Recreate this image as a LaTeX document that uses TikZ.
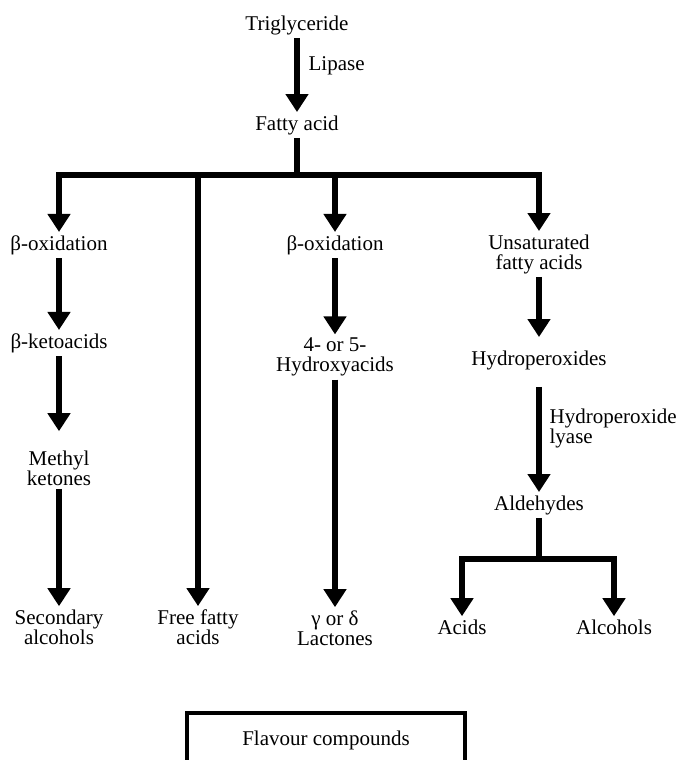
\documentclass[tikz,border=0pt]{standalone}
\usepackage{fontspec}
\setmainfont{Liberation Serif}
\usetikzlibrary{arrows.meta}

\tikzset{
  item/.style={align=center, inner sep=1.5pt, font=\fontsize{10.5}{10}\selectfont},
  flow/.style={line width=2.6pt, -{Triangle[width=11pt,length=9pt]}},
  bar/.style={line width=2.6pt},
}

\begin{document}
\begin{tikzpicture}[x=0.5pt, y=-0.5pt]
\useasboundingbox (0,0) rectangle (679,760);

\node[item] (trig) at (297,25) {Triglyceride};
\node[item] (fatty) at (297,125) {Fatty acid};

\coordinate (split) at (297,175);

% left column
\node[item] (box1) at (59,245) {β-oxidation};
\node[item] (keto) at (59,343) {β-ketoacids};
\node[item] (methyl) at (59,468) {Methyl\\ketones};
\node[item] (second) at (59,627) {Secondary\\alcohols};

\node[item] (free) at (198,627) {Free fatty\\acids};

% middle column
\node[item] (box2) at (335,245) {β-oxidation};
\node[item] (hydroxy) at (335,357) {4- or 5-\\Hydroxyacids};
\node[item] (lact) at (335,628) {γ or δ\\Lactones};

% right column
\node[item] (unsat) at (539,254) {Unsaturated\\fatty acids};
\node[item] (hydro) at (539,360) {Hydroperoxides};
\node[item] (ald) at (539,505) {Aldehydes};
\coordinate (fork) at (539,559);
\node[item] (acids) at (462,627) {Acids};
\node[item] (alcs) at (614,627) {Alcohols};

\node[draw, line width=2pt, minimum width=139pt, minimum height=27pt, font=\fontsize{10.5}{10}\selectfont] (flav) at (326,740) {Flavour compounds};

\draw[flow] (trig) -- (fatty) node[pos=0.37, right=3pt, item]{Lipase};
\draw[bar] (fatty) -- (split);
\draw[flow] (split) -| (box1);
\draw[flow] (split) -| (free);
\draw[flow] (split) -| (box2);
\draw[flow] (split) -| (unsat);

\draw[flow] (box1) -- (keto);
\draw[flow, shorten >=8pt] (keto) -- (methyl);
\draw[flow] (methyl) -- (second);

\draw[flow] (box2) -- (hydroxy);
\draw[flow] (hydroxy) -- (lact);

\draw[flow, shorten >=5pt] (unsat) -- (hydro);
\draw[flow, shorten <=7pt] (hydro) -- (ald) node[pos=0.47, right=2.5pt, item, align=left]{Hydroperoxide\\lyase};
\draw[bar] (ald) -- (fork);
\draw[flow] (fork) -| (acids);
\draw[flow] (fork) -| (alcs);

\end{tikzpicture}
\end{document}
